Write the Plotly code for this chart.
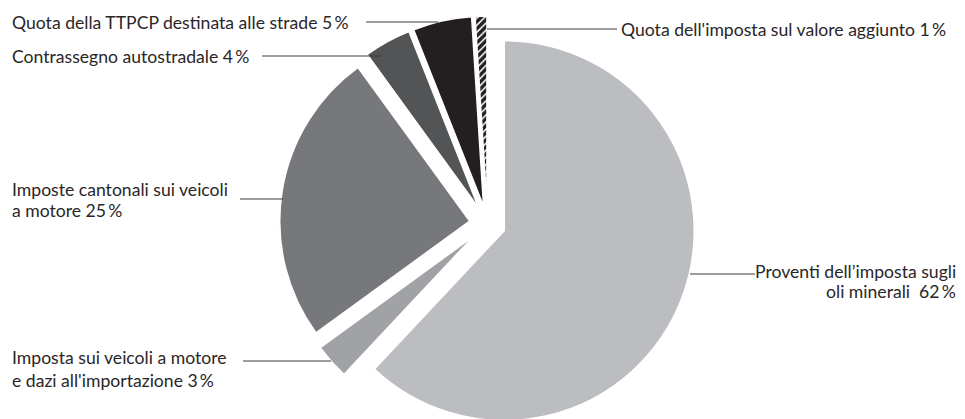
import plotly.graph_objects as go

# ---------------- data ----------------
categories = [
    "Proventi dell’imposta sugli oli minerali",
    "Imposta sui veicoli a motore e dazi all'importazione",
    "Imposte cantonali sui veicoli a motore",
    "Contrassegno autostradale",
    "Quota della TTPCP destinata alle strade",
    "Quota dell'imposta sul valore aggiunto",
]
shares = [62, 3, 25, 4, 5, 1]
label_lines = [
    ["Proventi dell’imposta sugli", "oli minerali  62\u2009%"],
    ["Imposta sui veicoli a motore", "e dazi all'importazione 3\u2009%"],
    ["Imposte cantonali sui veicoli", "a motore 25\u2009%"],
    ["Contrassegno autostradale 4\u2009%"],
    ["Quota della TTPCP destinata alle strade 5\u2009%"],
    ["Quota dell'imposta sul valore aggiunto 1\u2009%"],
]

# ---------------- style ----------------
colors = ["#bcbdc0", "#a1a2a5", "#77787b", "#535456", "#231f20", "#231f20"]
patterns = ["", "", "", "", "", "/"]
W, H = 965, 440
FONT = "Lato"
FS = 17.6
TXT = "#2a2627"

# label layout in pixels: (anchor, x, [y centres]), leader (x0, x1, y)
label_layout = [
    ("right", 958, [271, 291], (690, 755, 274)),
    ("left", 10, [357, 380], (243, 331, 361)),
    ("left", 10, [189, 211], (240, 283, 199)),
    ("left", 10, [57], (262, 381, 56)),
    ("left", 10, [22], (366, 438, 22)),
    ("left", 619, [29], (487, 617, 29)),
]

pie_cx, pie_cy, pie_box = 487.5, 224, 416

fig = go.Figure(
    go.Pie(
        labels=categories,
        values=shares,
        sort=False,
        direction="clockwise",
        rotation=0,
        pull=[0.095] * len(shares),
        textinfo="none",
        hoverinfo="label+percent",
        marker=dict(
            colors=colors,
            line=dict(color="white", width=1.5),
            pattern=dict(
                shape=patterns,
                bgcolor="#231f20",
                fgcolor="white",
                size=5,
                solidity=0.3,
                fillmode="replace",
            ),
        ),
        domain=dict(
            x=[(pie_cx - pie_box / 2) / W, (pie_cx + pie_box / 2) / W],
            y=[1 - (pie_cy + pie_box / 2) / H, 1 - (pie_cy - pie_box / 2) / H],
        ),
        showlegend=False,
    )
)

annotations = []
shapes = []
for lines, (anchor, x, ys, (lx0, lx1, ly)) in zip(label_lines, label_layout):
    for text, y in zip(lines, ys):
        annotations.append(
            dict(
                text=text,
                x=x / W,
                y=1 - y / H,
                xref="paper",
                yref="paper",
                xanchor=anchor,
                yanchor="middle",
                showarrow=False,
                font=dict(family=FONT, size=FS, color=TXT),
            )
        )
    shapes.append(
        dict(
            type="line",
            xref="paper",
            yref="paper",
            x0=lx0 / W,
            x1=lx1 / W,
            y0=1 - ly / H,
            y1=1 - ly / H,
            line=dict(color="#3a3a3a", width=1),
        )
    )

fig.update_layout(
    width=W,
    height=H,
    margin=dict(l=0, r=0, t=0, b=0),
    paper_bgcolor="white",
    plot_bgcolor="white",
    annotations=annotations,
    shapes=shapes,
)

fig.write_html(
    "out.html",
    config={"displayModeBar": False},
    post_script="document.documentElement.style.overflow='hidden';document.body.style.overflow='hidden';document.body.style.margin='0';",
)
